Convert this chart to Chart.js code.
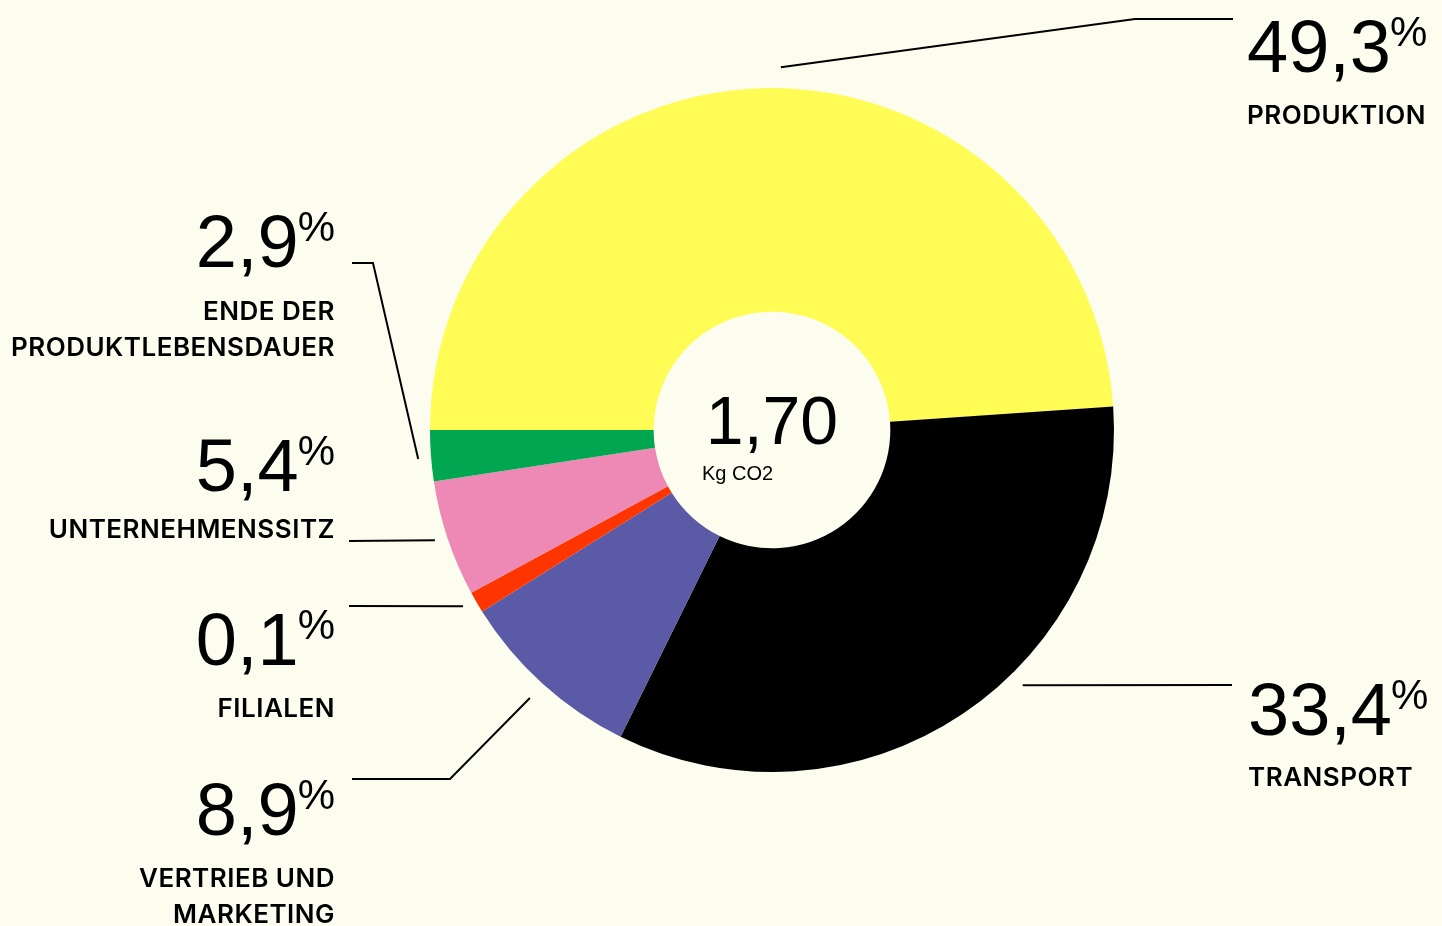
<!DOCTYPE html>
<html>
<head>
<meta charset="utf-8">
<script src="https://cdn.jsdelivr.net/npm/chart.js@4"></script>
<style>
  html, body { margin: 0; padding: 0; background: #FCFCEF; }
  #wrap { width: 1442px; height: 926px; position: relative; }
</style>
</head>
<body>
<div id="wrap"><canvas id="c" width="1442" height="926"></canvas></div>
<script>
// ---- data ----
const categories = ["PRODUKTION", "TRANSPORT", "VERTRIEB UND MARKETING", "FILIALEN", "UNTERNEHMENSSITZ", "ENDE DER PRODUKTLEBENSDAUER"];
// slice sizes as drawn in the picture (percent of the ring)
const sliceShares = [48.9, 33.4, 8.8, 1.0, 5.5, 2.4];
// percentages as printed on the labels
const percentLabels = ["49,3", "33,4", "8,9", "0,1", "5,4", "2,9"];
// label text lines
const labelLines = [["PRODUKTION"], ["TRANSPORT"], ["VERTRIEB UND", "MARKETING"], ["FILIALEN"], ["UNTERNEHMENSSITZ"], ["ENDE DER", "PRODUKTLEBENSDAUER"]];
const centerValue = "1,70";
const centerUnit = "Kg CO2";

// ---- styles / layout ----
const colors = ["#FFFC55", "#000000", "#5A5AA6", "#FF3500", "#EE88B5", "#00A650"];
const bg = "#FCFCEF";
const NUMFONT = '"Liberation Sans", Arial, Helvetica, sans-serif';
const LABFONT = 'Inter, "Liberation Sans", Arial, sans-serif';

// label layout: side, anchor x, number baseline, first text-line baseline
const labelLayout = [
  { align: "left",  x: 1247, y: 72,  ty: 124 },
  { align: "left",  x: 1248, y: 735, ty: 786 },
  { align: "right", x: 335,  y: 835, ty: 887 },
  { align: "right", x: 335,  y: 665, ty: 717 },
  { align: "right", x: 335,  y: 491, ty: 538 },
  { align: "right", x: 335,  y: 267, ty: 320 }
];
// callout lines: start given in polar form relative to the ring (angle deg, radius factor), then absolute bends
const calloutLayout = [
  { a: -88.6, r: 1.061, pts: [[1135, 19], [1233, 19]] },
  { a: 45.5,  r: 1.046, pts: [[1232, 685]] },
  { a: 132.1, r: 1.056, pts: [[450, 779], [352, 779]] },
  { a: 150.3, r: 1.040, pts: [[349, 606]] },
  { a: 161.9, r: 1.037, pts: [[349, 541]] },
  { a: 175.3, r: 1.038, pts: [[373, 263], [352, 263]] }
];

const annotate = {
  id: "annotate",
  beforeDraw(chart) {
    const ctx = chart.ctx;
    ctx.save();
    ctx.fillStyle = bg;
    ctx.fillRect(0, 0, chart.width, chart.height);
    ctx.restore();
  },
  afterDraw(chart) {
    const ctx = chart.ctx;
    const arc0 = chart.getDatasetMeta(0).data[0];
    const cx = arc0.x, cy = arc0.y, R = arc0.outerRadius;
    ctx.save();
    // callouts
    ctx.strokeStyle = "#000";
    ctx.lineWidth = 2;
    ctx.lineCap = "butt";
    ctx.lineJoin = "miter";
    calloutLayout.forEach(c => {
      const t = c.a * Math.PI / 180;
      ctx.beginPath();
      ctx.moveTo(cx + Math.cos(t) * R * c.r, cy + Math.sin(t) * R * c.r);
      c.pts.forEach(p => ctx.lineTo(p[0], p[1]));
      ctx.stroke();
    });
    // labels
    ctx.fillStyle = "#000";
    ctx.textBaseline = "alphabetic";
    percentLabels.forEach((txt, i) => {
      const L = labelLayout[i];
      ctx.letterSpacing = "0px";
      ctx.font = "74px " + NUMFONT;
      const wn = ctx.measureText(txt).width;
      ctx.font = "42px " + NUMFONT;
      const wp = ctx.measureText("%").width;
      const x0 = L.align === "left" ? L.x : L.x - wn - wp + 1;
      ctx.textAlign = "left";
      ctx.font = "74px " + NUMFONT;
      ctx.fillText(txt, x0, L.y);
      ctx.font = "42px " + NUMFONT;
      ctx.fillText("%", x0 + wn - 1, L.y - 26);
      ctx.font = "600 26px " + LABFONT;
      ctx.letterSpacing = "0.5px";
      ctx.textAlign = L.align;
      labelLines[i].forEach((ln, k) => {
        ctx.fillText(ln, L.x, L.ty + k * 36);
      });
    });
    ctx.letterSpacing = "0px";
    // center text
    ctx.textAlign = "center";
    ctx.font = "68px " + NUMFONT;
    ctx.fillText(centerValue, cx, cy + 14);
    ctx.textAlign = "left";
    ctx.font = "20px " + NUMFONT;
    ctx.fillText(centerUnit, cx - 70, cy + 50);
    ctx.restore();
  }
};

new Chart(document.getElementById("c"), {
  type: "doughnut",
  data: {
    labels: categories,
    datasets: [{
      data: sliceShares,
      backgroundColor: colors,
      borderWidth: 0,
      hoverOffset: 0
    }]
  },
  options: {
    responsive: false,
    animation: false,
    rotation: -90,
    cutout: "34.6%",
    layout: { padding: { left: 430, right: 328, top: 88, bottom: 154 } },
    plugins: { legend: { display: false }, tooltip: { enabled: false } },
    events: []
  },
  plugins: [annotate]
});
</script>
</body>
</html>
